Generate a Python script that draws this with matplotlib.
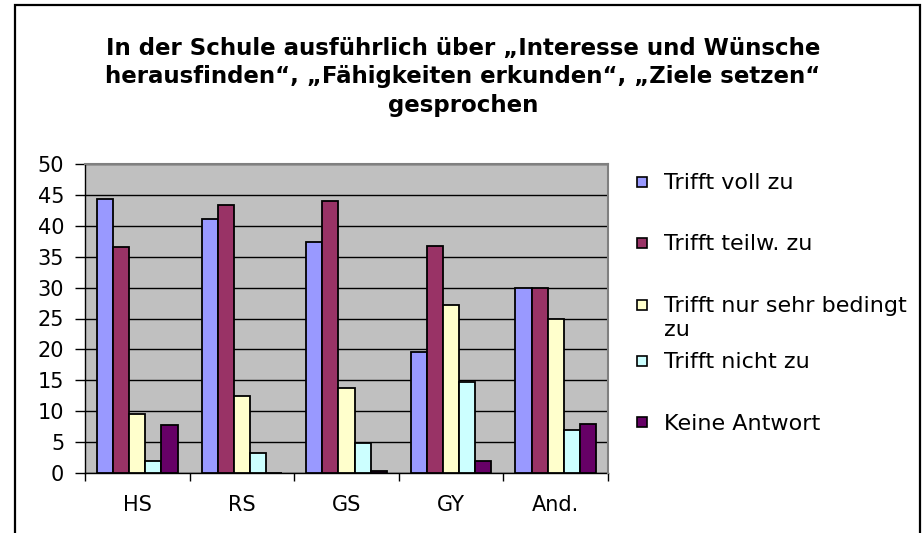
import matplotlib
matplotlib.use('Agg')
import matplotlib.pyplot as plt
import numpy as np
from matplotlib.patches import Rectangle

categories = ['HS', 'RS', 'GS', 'GY', 'And.']
series_names = ['Trifft voll zu', 'Trifft teilw. zu', 'Trifft nur sehr bedingt\nzu',
                'Trifft nicht zu', 'Keine Antwort']
voll = [44.3, 41.1, 37.4, 19.5, 30.0]
teilw = [36.6, 43.3, 44.0, 36.8, 30.0]
bedingt = [9.5, 12.5, 13.7, 27.2, 25.0]
nicht = [1.9, 3.3, 4.8, 14.8, 6.9]
keine = [7.8, 0.0, 0.4, 2.0, 8.0]
colors = ['#9999FF', '#993366', '#FFFFCC', '#CCFFFF', '#660066']
yticks = list(range(0, 51, 5))
title = ('In der Schule ausführlich über „Interesse und Wünsche\n'
         'herausfinden“, „Fähigkeiten erkunden“, „Ziele setzen“\n'
         'gesprochen')

W, H = 924, 533
plt.rcParams['font.family'] = ['DejaVu Sans']
fig = plt.figure(figsize=(W / 100, H / 100), dpi=100)
fig.patch.set_facecolor('white')

# outer chart frame (bottom edge lies outside the picture)
fig.patches.append(Rectangle((15 / W, -0.02), (920 - 15) / W, 1 - 5 / H + 0.02,
                             transform=fig.transFigure, fill=False,
                             edgecolor='black', linewidth=1.6, zorder=0))

ax = fig.add_axes([85 / W, 1 - 473 / H, (608 - 85) / W, (473 - 164) / H])
ax.set_facecolor('#C0C0C0')

series = [voll, teilw, bedingt, nicht, keine]
x = np.arange(len(categories))
w = 1 / 6.5
for i, vals in enumerate(series):
    ax.bar(x + (i - 2) * w, vals, w, color=colors[i], edgecolor='black',
           linewidth=1.3, zorder=3)

ax.set_xlim(-0.5, len(categories) - 0.5)
ax.set_ylim(0, 50)
ax.set_yticks(yticks)
ax.yaxis.grid(True, color='black', linewidth=1.0, zorder=1)
ax.set_axisbelow(True)
ax.tick_params(axis='y', direction='out', length=7, width=1, labelsize=15, pad=8)

ax.set_xticks(x)
ax.set_xticklabels(categories)
ax.set_xticks(np.arange(-0.5, len(categories)), minor=True)
ax.tick_params(axis='x', which='major', length=0, labelsize=15, pad=16)
ax.tick_params(axis='x', which='minor', direction='out', length=6, width=1)

for s in ['left', 'bottom']:
    ax.spines[s].set_color('black')
    ax.spines[s].set_linewidth(1.0)
for s in ['top', 'right']:
    ax.spines[s].set_color('#808080')
    ax.spines[s].set_linewidth(1.5)
    ax.spines[s].set_zorder(4)

# title
fig.text(463 / W, 1 - 77 / H, title, ha='center', va='center', fontsize=16.5,
         fontweight='bold', linespacing=1.33)

# legend (Excel-style, manually positioned; text lines top-aligned with the key)
rows_y = [182, 243, 305, 361, 422]
line_step = 23
for name, col, yc in zip(series_names, colors, rows_y):
    fig.patches.append(Rectangle((637 / W, 1 - (yc + 5) / H), 9.5 / W, 10 / H,
                                 transform=fig.transFigure, facecolor=col,
                                 edgecolor='black', linewidth=1.2))
    for k, line in enumerate(name.split('\n')):
        fig.text(664 / W, 1 - (yc + 7.5 + k * line_step) / H, line, ha='left',
                 va='baseline', fontsize=16)

fig.savefig('out.png', dpi=100)
